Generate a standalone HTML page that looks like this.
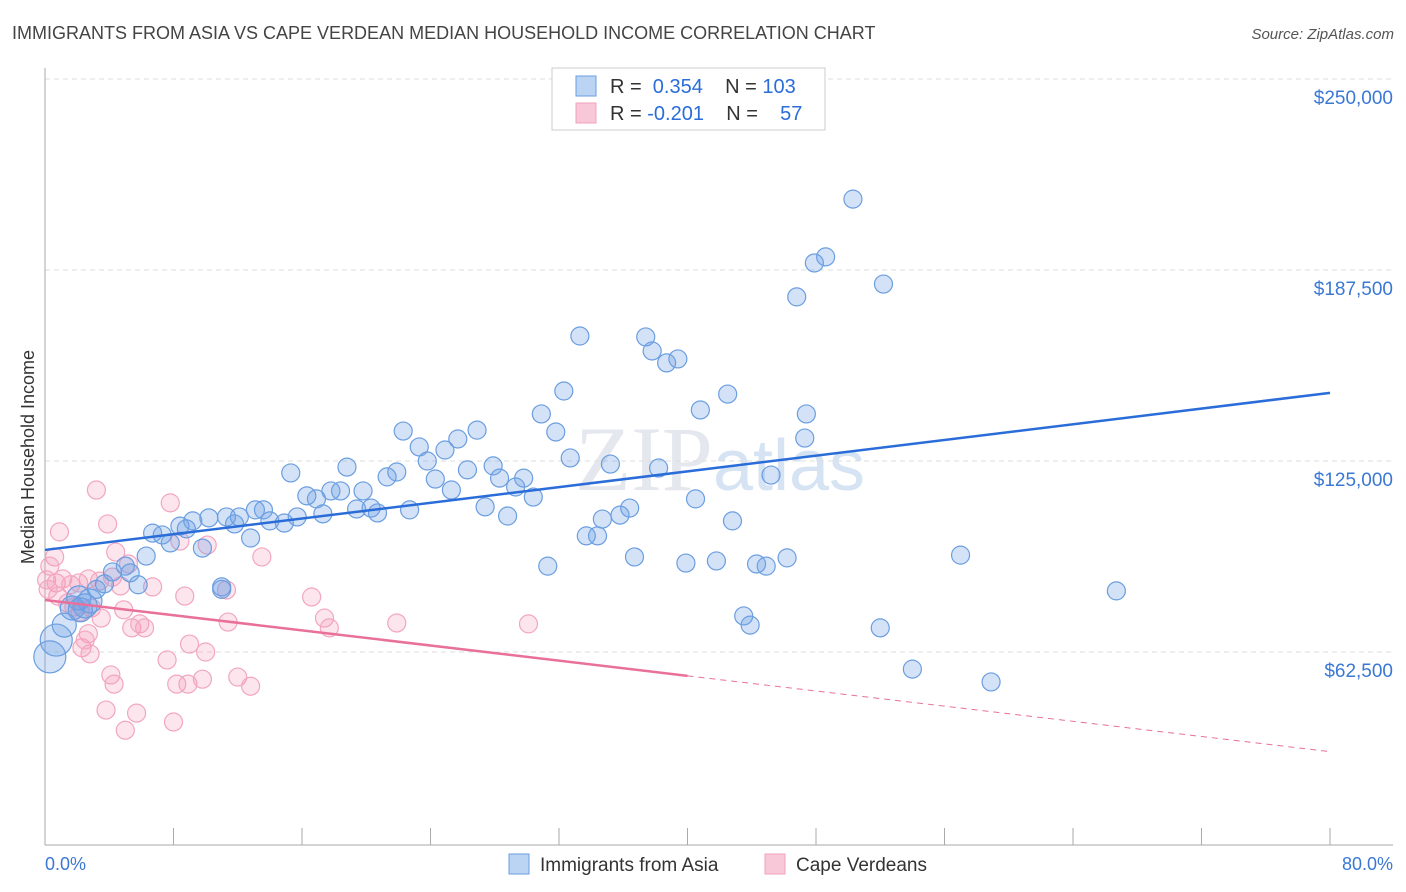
<!DOCTYPE html>
<html><head><meta charset="utf-8"><style>
body{margin:0;background:#fff;font-family:"Liberation Sans",sans-serif;}
svg{display:block}
text{white-space:pre}
</style></head><body>
<svg id="chart" width="1406" height="892">
<text x="12" y="39" font-size="18" fill="#444">IMMIGRANTS FROM ASIA VS CAPE VERDEAN MEDIAN HOUSEHOLD INCOME CORRELATION CHART</text>
<text x="1394" y="39" font-size="15" fill="#555" font-style="italic" text-anchor="end">Source: ZipAtlas.com</text>
<text x="720" y="490" font-size="92" fill="#e4e8ee" text-anchor="middle" font-family="Liberation Serif">ZIP<tspan fill="#d6e3f3" font-family="Liberation Sans" font-size="72">atlas</tspan></text>
<g id="grid"></g><g id="axes"></g><g id="pts"></g><g id="lines"></g>
<text transform="translate(34,457) rotate(-90)" font-size="18" fill="#333" text-anchor="middle">Median Household Income</text>
<text x="45" y="870" font-size="18" fill="#3a78d4">0.0%</text>
<text x="1393" y="870" font-size="18" fill="#3a78d4" text-anchor="end">80.0%</text>
<g>
<rect x="552" y="68" width="273" height="62" fill="#fff" stroke="#ccc"/>
<rect x="576" y="76" width="20" height="20" fill="#bcd4f4" stroke="#6a9de0"/>
<rect x="576" y="103" width="20" height="20" fill="#f9c8d8" stroke="#f0a0bc"/>
<text x="610" y="93" font-size="20" fill="#333">R =  <tspan fill="#2a6dd9">0.354</tspan>    N = <tspan fill="#2a6dd9">103</tspan></text>
<text x="610" y="120" font-size="20" fill="#333">R = <tspan fill="#2a6dd9">-0.201</tspan>    N =    <tspan fill="#2a6dd9">57</tspan></text>
</g>
<g>
<rect x="509" y="854" width="20" height="20" fill="#bcd4f4" stroke="#6a9de0"/>
<text x="540" y="871" font-size="19" fill="#333">Immigrants from Asia</text>
<rect x="765" y="854" width="20" height="20" fill="#f9c8d8" stroke="#f0a0bc"/>
<text x="796" y="871" font-size="19" fill="#333">Cape Verdeans</text>
</g>
</svg>
<script>
const yTicks=[62500,125000,187500,250000];
const yTickLabels=["$62,500","$125,000","$187,500","$250,000"];
const xTicks=[0,8,16,24,32,40,48,56,64,72,80];
const blueX=[50.3,48.6,47.9,46.8,52.2,33.3,37.4,37.8,38.7,39.4,32.3,42.5,40.8,47.4,30.9,31.8,47.3,22.3,26.9,23.3,24.9,25.7,23.8,32.7,35.2,38.2,27.9,18.8,15.3,26.3,21.3,21.9,24.3,28.3,29.8,29.3,30.4,45.2,25.3,16.3,17.8,18.4,19.8,16.9,19.4,20.3,20.7,17.3,22.7,27.4,28.8,40.5,36.4,35.8,34.7,42.8,34.4,33.7,13.6,13.1,14.0,14.9,15.7,10.2,11.3,12.1,11.8,8.4,8.8,9.2,6.7,7.3,7.8,12.8,9.8,6.3,31.3,36.7,39.9,41.8,44.3,44.9,46.2,57.0,66.7,43.5,43.9,52.0,54.0,58.9,11.0,11.0,5.0,5.3,4.2,3.7,3.2,5.8,2.8,2.2,1.7,1.2,0.7,0.3,2.5,2.1];
const blueY=[210.7,191.8,189.8,178.7,182.9,165.9,165.6,161.0,157.1,158.4,147.9,146.9,141.7,140.4,140.4,134.5,132.5,134.8,135.1,129.6,128.6,132.2,125.0,126.0,124.0,122.7,123.4,123.0,121.1,122.1,119.8,121.4,119.1,119.4,119.4,116.5,113.2,120.4,115.5,113.6,115.2,115.2,115.2,112.6,109.3,109.6,108.0,107.7,109.0,110.0,107.0,112.6,109.6,107.3,106.0,105.4,100.5,100.5,109.0,109.0,105.4,104.7,106.7,106.4,106.7,106.7,104.4,103.7,102.8,105.4,101.4,100.8,98.2,99.8,96.5,93.9,90.6,93.6,91.6,92.3,91.3,90.6,93.3,94.2,82.5,74.3,71.3,70.4,56.9,52.7,83.8,83.0,90.6,88.4,88.7,84.8,83.0,84.5,79.2,76.3,76.9,71.3,66.4,60.9,77.6,80.2];
const pinkX=[0.9,0.6,0.3,0.1,0.7,1.1,1.6,2.1,2.7,3.4,4.2,0.8,1.4,1.8,2.2,2.9,3.5,3.2,3.9,4.4,5.2,4.7,4.9,5.4,5.9,6.2,6.7,7.8,8.4,10.1,8.7,11.3,13.5,16.6,17.4,17.7,21.9,30.1,2.7,2.3,2.8,4.1,4.3,7.6,8.2,8.9,9.8,10.0,9.0,11.4,12.0,12.8,3.8,5.7,5.0,8.0,0.2,2.5];
const pinkY=[101.8,93.6,90.6,86.1,85.1,86.4,84.5,85.1,86.4,85.7,87.0,80.8,78.5,77.2,75.6,76.9,73.6,115.5,104.4,95.2,91.3,84.1,76.3,70.4,71.7,70.4,83.8,111.3,98.8,97.5,80.8,82.8,93.6,80.5,73.6,70.4,72.0,71.7,68.5,63.9,61.9,55.0,52.0,59.9,52.0,52.0,53.6,62.5,65.1,72.3,54.3,51.3,43.5,42.5,36.9,39.6,83.0,66.4];
const blueTrend=[95.9,147.3];
const pinkTrend=[79.5,54.7,29.9];
const NS="http://www.w3.org/2000/svg";
const X=p=>45+p*1285/80;
const Y=k=>79+(250-k)*191/62.5;
const Yv=v=>Y(v/1000);
function mk(t,a,p){const e=document.createElementNS(NS,t);for(const k in a)e.setAttribute(k,a[k]);document.getElementById(p).appendChild(e);return e;}
yTicks.forEach((v,i)=>{
 const g=mk('line',{x1:45,x2:1393,y1:Yv(v),y2:Yv(v),stroke:'#ddd','stroke-dasharray':'5,4'},'grid');
 
 
 const t=mk('text',{x:1393,y:Yv(v)+25,'font-size':19,fill:'#3a78d4','text-anchor':'end'},'grid');
 t.textContent=yTickLabels[i];
 
 
});
const ya=mk('line',{x1:45,x2:45,y1:68,y2:845,stroke:'#aaa'},'axes');


const xa=mk('line',{x1:45,x2:1393,y1:845,y2:845,stroke:'#aaa'},'axes');


xTicks.forEach(p=>{const t=mk('line',{x1:X(p),x2:X(p),y1:828,y2:845,stroke:'#aaa'},'axes');
 
 });
pinkX.forEach((p,i)=>{const c=mk('circle',{cx:X(p),cy:Y(pinkY[i]),r:9,fill:'rgba(244,150,180,0.25)',stroke:'#f2a6c0','stroke-width':1.2},'pts');
 
 });
blueX.forEach((p,i)=>{const c=mk('circle',{cx:X(p),cy:Y(blueY[i]),r:p<1?16:(p<3?12:9),fill:'rgba(110,160,230,0.3)',stroke:'#6b9ee0','stroke-width':1.2},'pts');
 
 });
const bl=mk('line',{x1:X(0),y1:Y(blueTrend[0]),x2:X(80),y2:Y(blueTrend[1]),stroke:'#2a6dd9','stroke-width':2.5},'lines');


const pl=mk('line',{x1:X(0),y1:Y(pinkTrend[0]),x2:X(40),y2:Y(pinkTrend[1]),stroke:'#e8709a','stroke-width':2.5},'lines');


const pd=mk('line',{x1:X(40),y1:Y(pinkTrend[1]),x2:X(80),y2:Y(pinkTrend[2]),stroke:'#e8709a','stroke-width':1,'stroke-dasharray':'6,5'},'lines');


</script>
</body></html>
